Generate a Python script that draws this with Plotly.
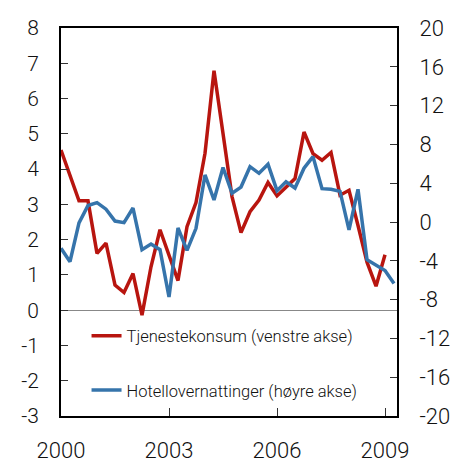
import plotly.graph_objects as go

quarters = [f"{y}K{q}" for y in range(2000, 2010) for q in range(1, 5)]

tjenestekonsum = [4.54, 3.81, 3.10, 3.10, 1.61, 1.90, 0.71, 0.50, 1.04, -0.14,
                  1.23, 2.28, 1.55, 0.84, 2.37, 3.05, 4.45, 6.79, 5.01, 3.22,
                  2.20, 2.79, 3.12, 3.62, 3.24, 3.50, 3.73, 5.05, 4.44, 4.25,
                  4.47, 3.26, 3.40, 2.40, 1.36, 0.68, 1.57]

hotellovernattinger = [-2.71, -4.09, -0.10, 1.70, 1.99, 1.32, 0.10, -0.07, 1.44, -2.85,
                       -2.28, -2.85, -7.73, -0.62, -2.92, -0.65, 4.85, 2.27, 5.62, 2.96,
                       3.60, 5.70, 5.02, 5.95, 3.23, 4.15, 3.50, 5.54, 6.74, 3.44,
                       3.38, 3.16, -0.82, 3.37, -3.88, -4.40, -5.00, -6.35]

left_ticks = list(range(-3, 9))
right_ticks = list(range(-20, 21, 4))
x_ticks = [2000, 2003, 2006, 2009]

def qpos(label):
    y, q = label.split("K")
    return int(y) + (int(q) - 1) / 4

x_red = [qpos(q) for q in quarters[:len(tjenestekonsum)]]
x_blue = [qpos(q) for q in quarters[:len(hotellovernattinger)]]

RED = "#B8150F"
BLUE = "#3674AB"
FONT = "Roboto"
NBSP = "\u00a0"

fig = go.Figure()
fig.add_trace(go.Scatter(x=x_red, y=tjenestekonsum, mode="lines",
                         name="Tjenestekonsum (venstre akse)",
                         line=dict(color=RED, width=3.5), yaxis="y", legend="legend"))
fig.add_trace(go.Scatter(x=x_blue, y=hotellovernattinger, mode="lines",
                         name="Hotellovernattinger (høyre akse)",
                         line=dict(color=BLUE, width=3.5), yaxis="y2", legend="legend2"))

left_font = dict(family=FONT, size=21, color="#111", weight=300)
big_font = dict(family=FONT, size=22, color="#111", weight=300)
legend_font = dict(family=FONT, size=16.5, color="#111", weight=300)

fig.update_layout(
    width=455, height=463,
    margin=dict(l=61, r=58, t=28, b=47, autoexpand=False),
    paper_bgcolor="white", plot_bgcolor="white",
    font=dict(family=FONT),
    xaxis=dict(range=[2000, 2009.333], tickvals=x_ticks, ticktext=[str(v) for v in x_ticks],
               ticks="inside", ticklen=8, tickcolor="#333", tickwidth=1,
               showline=True, linecolor="black", linewidth=2, mirror=True,
               showgrid=False, zeroline=False, tickfont=big_font, ticklabelstandoff=14,
               automargin=False),
    yaxis=dict(range=[-3, 8], tickvals=left_ticks,
               ticktext=[str(v) for v in left_ticks],
               ticks="inside", ticklen=7,
               tickcolor="#333", tickwidth=1, showline=True, linecolor="black",
               linewidth=2, showgrid=False, zeroline=True, zerolinecolor="#888",
               zerolinewidth=1, tickfont=left_font, ticklabelstandoff=16,
               automargin=False),
    yaxis2=dict(range=[-20, 20], tickvals=right_ticks,
                ticktext=[NBSP * 3 + str(v) for v in right_ticks],
                overlaying="y", side="right",
                ticks="inside", ticklen=7, tickcolor="#333", tickwidth=1,
                showline=True, linecolor="black", linewidth=2, showgrid=False,
                zeroline=False, tickfont=big_font, automargin=False),
    legend=dict(x=0.076, y=0.206, xanchor="left", yanchor="middle",
                bgcolor="rgba(0,0,0,0)", font=legend_font, itemwidth=30),
    legend2=dict(x=0.076, y=0.066, xanchor="left", yanchor="middle",
                 bgcolor="rgba(0,0,0,0)", font=legend_font, itemwidth=30),
    showlegend=True,
)

fig.write_html("out.html", config={"displayModeBar": False},
               post_script="document.body.style.margin='0';")
